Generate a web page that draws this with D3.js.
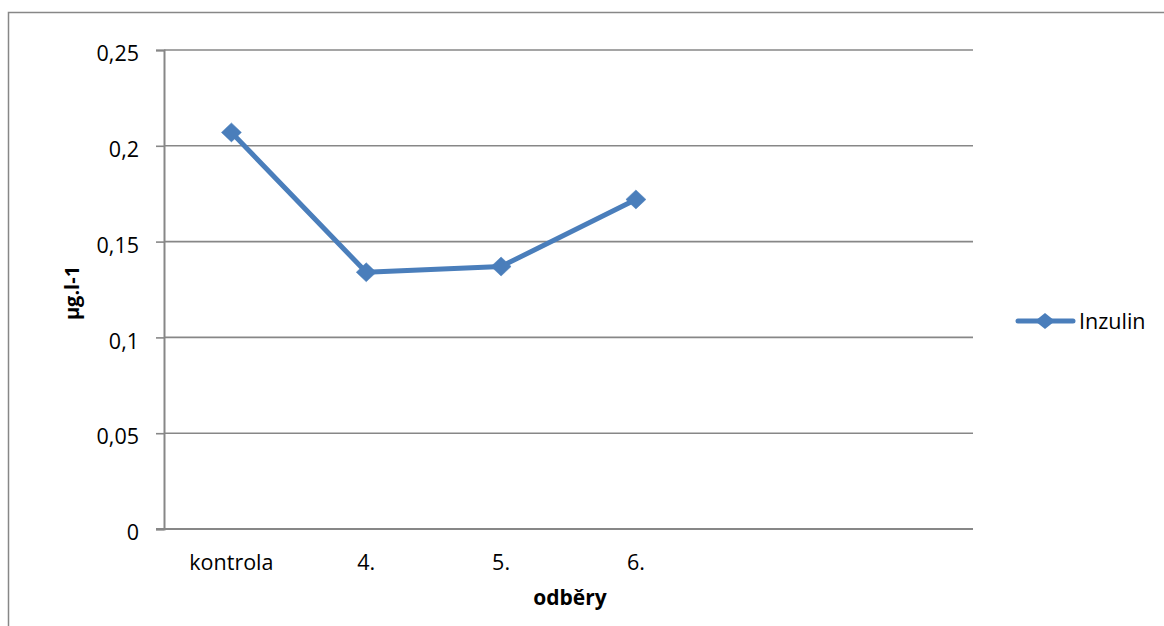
<!DOCTYPE html>
<html>
<head>
<meta charset="utf-8">
<script src="https://cdn.jsdelivr.net/npm/d3@7/dist/d3.min.js"></script>
<style>
  html, body { margin: 0; padding: 0; background: #fff; }
  svg { display: block; }
  text { font-family: "Open Sans", "Noto Sans", sans-serif; fill: #000; }
</style>
</head>
<body>
<svg id="chart" width="1164" height="626"></svg>
<script>
// Inzulin concentration per sampling (odběry)
const categories = ["kontrola", "4.", "5.", "6.", "", ""];
const inzulin = [0.207, 0.134, 0.137, 0.172];
const yTicks = [0, 0.05, 0.1, 0.15, 0.2, 0.25];
const yTickLabels = ["0", "0,05", "0,1", "0,15", "0,2", "0,25"];
const seriesName = "Inzulin";
const xTitle = "odběry";
const yTitle = "µg.l-1";

const svg = d3.select("#chart");
const W = 1164, H = 626;
const plot = { left: 164, right: 973, top: 50, bottom: 529 };
const blue = "#4a7ebb";
const grey = "#878787";
const font = "'Open Sans', 'Noto Sans', sans-serif";
const fs = 21.5;

// outer chart frame
svg.append("rect")
  .attr("x", 8.5).attr("y", 12.5)
  .attr("width", W + 10).attr("height", H + 10)
  .attr("fill", "none").attr("stroke", grey).attr("stroke-width", 1.5);

const x = d3.scaleBand()
  .domain(d3.range(categories.length))
  .range([plot.left, plot.right])
  .paddingInner(0).paddingOuter(0);

const y = d3.scaleLinear()
  .domain([0, 0.25])
  .range([plot.bottom, plot.top]);

// horizontal gridlines
svg.append("g")
  .selectAll("line")
  .data(yTicks.filter(d => d > 0))
  .join("line")
  .attr("x1", plot.left).attr("x2", plot.right)
  .attr("y1", d => y(d)).attr("y2", d => y(d))
  .attr("stroke", grey).attr("stroke-width", 1.6);

// y axis
const yAxis = d3.axisLeft(y)
  .tickValues(yTicks)
  .tickSize(8)
  .tickPadding(17)
  .tickFormat((d, i) => yTickLabels[i]);

const gy = svg.append("g")
  .attr("transform", `translate(${plot.left},0)`)
  .call(yAxis);
gy.select(".domain").attr("stroke", grey).attr("stroke-width", 2);
gy.selectAll(".tick line").attr("stroke", grey).attr("stroke-width", 1.6);
gy.selectAll(".tick text")
  .attr("font-size", fs)
  .attr("font-family", font)
  .attr("dy", "0.5em")
  .attr("fill", "#000");

// x axis
const xAxis = d3.axisBottom(x)
  .tickSize(0)
  .tickPadding(26)
  .tickFormat(i => categories[i]);

const gx = svg.append("g")
  .attr("transform", `translate(0,${plot.bottom})`)
  .call(xAxis);
gx.select(".domain")
  .attr("d", `M${plot.left - 8},0H${plot.right}`)
  .attr("stroke", grey).attr("stroke-width", 2);
gx.selectAll(".tick text")
  .attr("font-size", fs)
  .attr("font-family", font)
  .attr("fill", "#000");

// axis titles
svg.append("text")
  .attr("x", 570).attr("y", 605)
  .attr("text-anchor", "middle")
  .attr("font-size", 21).attr("font-weight", "bold")
  .text(xTitle);

svg.append("text")
  .attr("transform", "translate(79,293) rotate(-90)")
  .attr("text-anchor", "middle")
  .attr("font-size", 20).attr("font-weight", "bold")
  .text(yTitle);

// series line
const cx = i => x(i) + x.bandwidth() / 2;
const line = d3.line()
  .x((d, i) => cx(i))
  .y(d => y(d));

svg.append("path")
  .datum(inzulin)
  .attr("d", line)
  .attr("fill", "none")
  .attr("stroke", blue)
  .attr("stroke-width", 5)
  .attr("stroke-linejoin", "round")
  .attr("stroke-linecap", "round");

// diamond marker, half-diagonal r
const diamondPath = (r, ry) => `M0,${-ry}L${r},0L0,${ry}L${-r},0Z`;
svg.append("g")
  .selectAll("path")
  .data(inzulin)
  .join("path")
  .attr("d", diamondPath(10, 9.5))
  .attr("transform", (d, i) => `translate(${cx(i)},${y(d)})`)
  .attr("fill", blue)
  .attr("stroke", blue)
  .attr("stroke-width", 0.5);

// legend
const lg = svg.append("g").attr("transform", "translate(1018,321)");
lg.append("line")
  .attr("x1", 0).attr("x2", 55)
  .attr("stroke", blue).attr("stroke-width", 5)
  .attr("stroke-linecap", "round");
lg.append("path")
  .attr("d", diamondPath(10, 8))
  .attr("transform", "translate(27,0)")
  .attr("fill", blue);
lg.append("text")
  .attr("x", 61).attr("y", 8)
  .attr("font-size", fs)
  .text(seriesName);
</script>
</body>
</html>
